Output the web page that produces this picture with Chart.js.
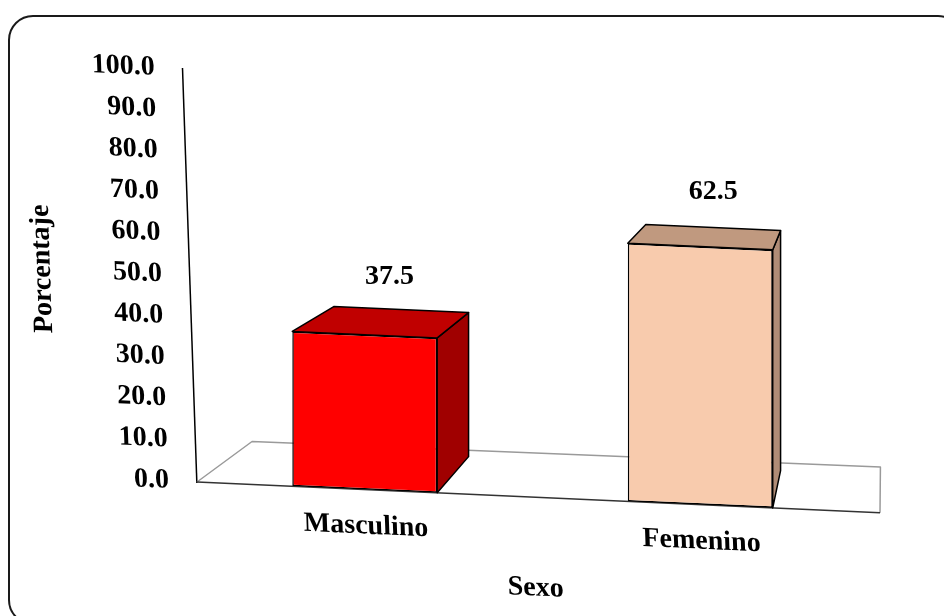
<!DOCTYPE html>
<html>
<head>
<meta charset="utf-8">
<script src="https://cdn.jsdelivr.net/npm/chart.js@4.4.1/dist/chart.umd.min.js"></script>
<style>
  html, body { margin: 0; padding: 0; background: #fff; overflow: hidden; }
  #wrap { position: relative; width: 944px; height: 616px; overflow: hidden; }
  #frame { position: absolute; left: 8px; top: 15px; width: 955px; height: 610px;
           border: 2px solid #1a1a1a; border-radius: 25px; box-sizing: border-box; }
  canvas { position: absolute; left: 0; top: 0; }
</style>
</head>
<body>
<div id="wrap">
  <div id="frame"></div>
  <canvas id="barChart" width="944" height="616"></canvas>
</div>
<script>
// datos
const categorias = ['Masculino', 'Femenino'];
const porcentajes = [37.5, 62.5];
const yTicks = [0, 10, 20, 30, 40, 50, 60, 70, 80, 90, 100];

// colores de las caras (frente, arriba, lado)
const colorFrente = ['#FF0000', '#F8CBAD'];
const colorArriba = ['#C00000', '#C0997F'];
const colorLado = ['#A00000', '#B08C76'];

const FONT = 'Liberation Serif, Times New Roman, serif';

// pseudo 3D: inclinacion y punto de fuga
const B = 0.045, C = 0.0346, X0 = 197, Y0 = 480;
const VP = [885, -24];
const post = (x, y) => [x, y + B * (x - X0)];
const fondo = (p, k) => [p[0] + k * (VP[0] - p[0]), p[1] + k * (VP[1] - p[1])];

function poly(ctx, pts, fill, stroke, lw) {
  ctx.beginPath();
  ctx.moveTo(pts[0][0], pts[0][1]);
  for (let i = 1; i < pts.length; i++) ctx.lineTo(pts[i][0], pts[i][1]);
  ctx.closePath();
  if (fill) { ctx.fillStyle = fill; ctx.fill(); }
  if (stroke) { ctx.strokeStyle = stroke; ctx.lineWidth = lw; ctx.stroke(); }
}

function drawFloor(chart) {
  const { ctx, chartArea } = chart;
  const y = chart.scales.y.getPixelForValue(0);
  const fl = post(chartArea.left, y), fr = post(chartArea.right + 12, y);
  const bl = fondo(fl, 0.08), br = fondo(fr, 0.085);
  ctx.save();
  ctx.lineJoin = 'round';
  ctx.lineWidth = 1.5;
  ctx.strokeStyle = '#9a9a9a';
  ctx.beginPath();
  ctx.moveTo(fl[0], fl[1]); ctx.lineTo(bl[0], bl[1]);
  ctx.lineTo(br[0], br[1]); ctx.lineTo(fr[0], fr[1]);
  ctx.stroke();
  ctx.strokeStyle = '#333';
  ctx.beginPath();
  ctx.moveTo(fl[0], fl[1]); ctx.lineTo(fr[0], fr[1]);
  ctx.stroke();
  ctx.restore();
}

function drawFaces(chart) {
  const ctx = chart.ctx;
  const meta = chart.getDatasetMeta(0);
  ctx.save();
  ctx.lineJoin = 'round';
  meta.data.forEach((bar, i) => {
    const { x, y, base, width } = bar.getProps(['x', 'y', 'base', 'width'], true);
    const l = x - width / 2, r = x + width / 2;
    const ftl = post(l, y), ftr = post(r, y), fbr = post(r, base);
    const btl = fondo(ftl, 0.07), btr = fondo(ftr, 0.07), bbr = fondo(fbr, 0.07);
    poly(ctx, [ftr, fbr, bbr, btr], colorLado[i], '#000', 1.5);
    poly(ctx, [ftl, ftr, btr, btl], colorArriba[i], '#000', 1.5);

    // etiqueta de valor
    ctx.fillStyle = '#000';
    ctx.font = 'bold 28px ' + FONT;
    ctx.textAlign = 'center';
    ctx.textBaseline = 'middle';
    const cx = (ftl[0] + ftr[0]) / 2 + (btl[0] - ftl[0]) / 2 + 4;
    const cy = (ftl[1] + btl[1]) / 2 - 42;
    ctx.fillText(porcentajes[i].toFixed(1), cx, cy);
  });
  ctx.restore();
}

const perspectiva = {
  id: 'perspectiva',
  beforeDraw(chart) {
    const ctx = chart.ctx;
    ctx.save();
    ctx.transform(1, B, C, 1, -C * Y0, -B * X0);
  },
  beforeDatasetsDraw(chart) {
    const ctx = chart.ctx;
    ctx.restore();
    drawFloor(chart);
    ctx.save();
    ctx.transform(1, B, 0, 1, 0, -B * X0);
  },
  afterDatasetsDraw(chart) {
    chart.ctx.restore();
    drawFaces(chart);
  }
};

const ctx = document.getElementById('barChart').getContext('2d');
new Chart(ctx, {
  type: 'bar',
  data: {
    labels: categorias,
    datasets: [{
      label: 'Porcentaje',
      data: porcentajes,
      backgroundColor: colorFrente,
      borderColor: '#000',
      borderWidth: 1.5,
      borderSkipped: false,
      barPercentage: 0.432,
      categoryPercentage: 1
    }]
  },
  options: {
    responsive: false,
    animation: false,
    layout: { autoPadding: false, padding: { top: 69, right: 76, bottom: 0, left: 0 } },
    plugins: { legend: { display: false }, tooltip: { enabled: false } },
    scales: {
      x: {
        grid: { display: false, drawTicks: false },
        border: { display: false },
        ticks: { color: '#000', padding: 20, maxRotation: 0, font: { family: FONT, size: 28, weight: 'bold' } },
        title: { display: true, text: 'Sexo', color: '#000', padding: { top: 0, bottom: 26 },
                 font: { family: FONT, size: 28, weight: 'bold' } },
        afterFit(scale) { scale.height = 134; }
      },
      y: {
        min: 0,
        max: 100,
        afterBuildTicks(scale) { scale.ticks = yTicks.map(v => ({ value: v })); },
        grid: { display: false, drawTicks: false },
        border: { display: true, color: '#000', width: 1.5 },
        ticks: { color: '#000', padding: 28, callback: v => Number(v).toFixed(1),
                 font: { family: FONT, size: 28, weight: 'bold' } },
        title: { display: true, text: 'Porcentaje', color: '#000', padding: { top: 33, bottom: 0 },
                 font: { family: FONT, size: 28, weight: 'bold' } },
        afterFit(scale) { scale.width = 197; }
      }
    }
  },
  plugins: [perspectiva]
});
</script>
</body>
</html>
